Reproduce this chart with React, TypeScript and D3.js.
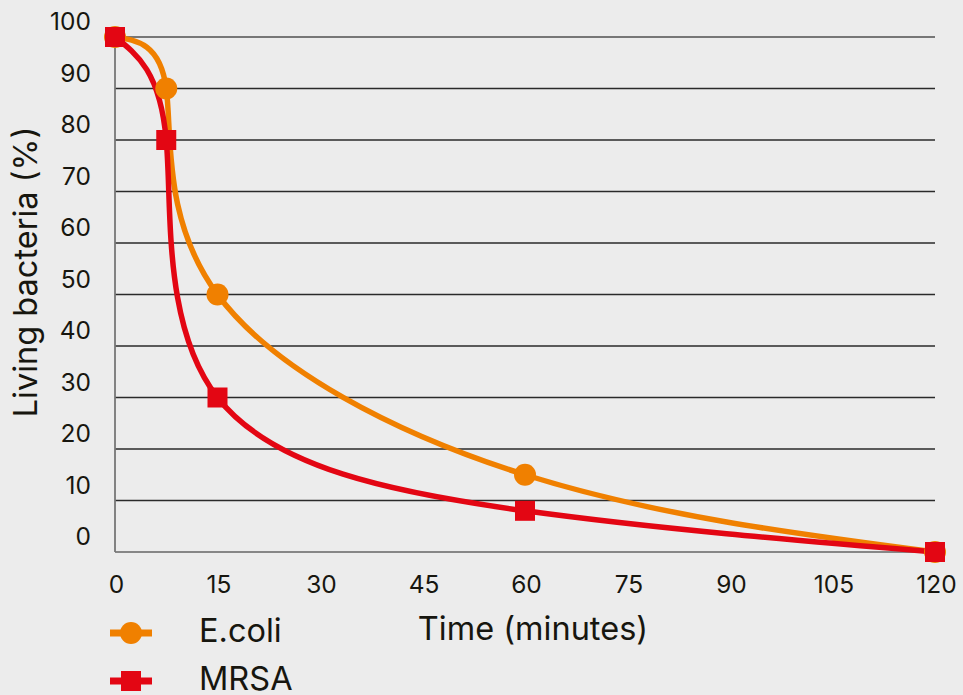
import React from "react";
import * as d3 from "d3";

const times = [0, 7.5, 15, 60, 120];
const ecoli = [100, 90, 50, 15, 0];
const mrsa = [100, 80, 30, 8, 0];
const xTicks = [0, 15, 30, 45, 60, 75, 90, 105, 120];
const yTicks = [0, 10, 20, 30, 40, 50, 60, 70, 80, 90, 100];
const seriesNames = ["E.coli", "MRSA"];

const W = 963;
const H = 695;
const ORANGE = "#f08000";
const RED = "#e30613";
const TEXT = "#17160f";
const FONT = "Inter, 'Noto Sans', sans-serif";

export default function App() {
  const x = d3.scaleLinear().domain([0, 120]).range([115, 935]);
  const y = d3.scaleLinear().domain([0, 100]).range([552, 37]);
  const line = d3
    .line<[number, number]>()
    .x((d) => x(d[0]))
    .y((d) => y(d[1]))
    .curve(d3.curveNatural);
  const ePts: [number, number][] = times.map((t, i) => [t, ecoli[i]]);
  const mPts: [number, number][] = times.map((t, i) => [t, mrsa[i]]);

  return (
    <svg
      width={W}
      height={H}
      style={{ position: "absolute", left: 0, top: 0, display: "block" }}
      fontFamily={FONT}
    >
      <rect x={0} y={0} width={W} height={H} fill="#ececec" />
      {yTicks.map((t) => (
        <g key={t}>
          {t > 0 && (
            <line
              x1={x(0)}
              x2={x(120)}
              y1={y(t)}
              y2={y(t)}
              stroke={t === 100 ? "#777" : "#2a2a2a"}
              strokeWidth={t === 100 ? 2 : 1.3}
            />
          )}
          <text
            x={91}
            y={y(t) - 7}
            textAnchor="end"
            fontSize={24.5}
            fill={TEXT}
          >
            {t}
          </text>
        </g>
      ))}
      <line x1={x(0)} x2={x(120)} y1={y(0)} y2={y(0)} stroke="#666" strokeWidth={1.5} />
      <line x1={x(0)} x2={x(0)} y1={y(100)} y2={y(0)} stroke="#777" strokeWidth={1.8} />
      {xTicks.map((t) => (
        <text
          key={t}
          x={x(t) + 1.5}
          y={593}
          textAnchor="middle"
          fontSize={24.5}
          fill={TEXT}
        >
          {t}
        </text>
      ))}
      <text x={533} y={640} textAnchor="middle" fontSize={32.5} fill={TEXT}>
        Time (minutes)
      </text>
      <text
        transform={`translate(37,272) rotate(-90)`}
        textAnchor="middle"
        fontSize={32.5}
        fill={TEXT}
      >
        Living bacteria (%)
      </text>
      <path d={line(ePts) || ""} fill="none" stroke={ORANGE} strokeWidth={5.5} />
      <path d={line(mPts) || ""} fill="none" stroke={RED} strokeWidth={5.5} />
      {ePts.map((p, i) => (
        <circle key={"e" + i} cx={x(p[0])} cy={y(p[1])} r={11} fill={ORANGE} />
      ))}
      {mPts.map((p, i) => (
        <rect
          key={"m" + i}
          x={x(p[0]) - 10}
          y={y(p[1]) - 10}
          width={20}
          height={20}
          fill={RED}
        />
      ))}
      <g>
        <line x1={110} x2={152} y1={633} y2={633} stroke={ORANGE} strokeWidth={7} />
        <circle cx={131} cy={633} r={11} fill={ORANGE} />
        <text x={199} y={642} fontSize={32.5} fill={TEXT}>
          {seriesNames[0]}
        </text>
        <line x1={110} x2={152} y1={681} y2={681} stroke={RED} strokeWidth={7} />
        <rect x={121} y={671} width={20} height={20} fill={RED} />
        <text x={199} y={690} fontSize={32.5} fill={TEXT}>
          {seriesNames[1]}
        </text>
      </g>
    </svg>
  );
}
